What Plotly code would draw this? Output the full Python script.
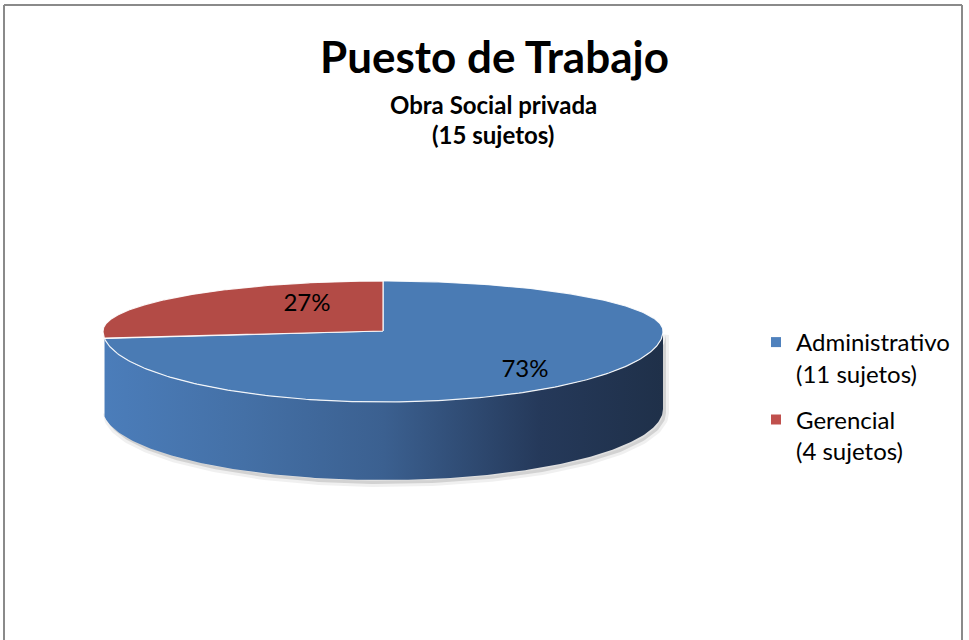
import numpy as np
import plotly.graph_objects as go

# ---------------- data ----------------
categories = ["Administrativo", "Gerencial"]
counts = [11, 4]
title_text = "Puesto de Trabajo"
subtitle_lines = ["Obra Social privada", "(15 sujetos)"]

# ---------------- styles / layout constants ----------------
TOP_COLORS = ["#4a7bb4", "#b34b46"]
LEGEND_COLORS = ["#4f81bd", "#c0504d"]
SIDE_SCALES = [
    [[0.0, "#4b7dba"], [0.25, "#4470a6"], [0.5, "#3b6090"], [0.78, "#25395a"], [1.0, "#1f3049"]],
    [[0.0, "#8e3a37"], [1.0, "#7a302d"]],
]
FONT = "Lato"
CX, CY = 383, 331
RX, RY_BACK, RY_FRONT = 280, 50, 71
DEPTH = 78
LABEL_POS = [(525, 371), (307, 305)]
W, H = 969, 640


def ell(t_deg, drop=0.0):
    t = np.radians(np.asarray(t_deg, dtype=float))
    s = np.sin(t)
    ry = np.where(s > 0, RY_BACK, RY_FRONT)
    return CX + RX * np.cos(t), CY - ry * s + drop


total = sum(counts)
fig = go.Figure()

# slice angle intervals (clockwise from 12 o'clock)
intervals = []
start = 90.0
for v in counts:
    sweep = 360.0 * v / total
    intervals.append((start - sweep, start))
    start -= sweep

# shadow under the pie
tt = np.linspace(180, 360, 200)
bx, by = ell(tt, DEPTH)
tx, ty = ell(tt[::-1], 0)
fig.add_trace(go.Scatter(
    x=np.concatenate([bx + 3, tx + 3]), y=np.concatenate([by + 4, ty + 4]),
    fill="toself", mode="lines", line=dict(color="rgba(0,0,0,0.06)", width=6),
    fillcolor="rgba(0,0,0,0.12)", hoverinfo="skip", showlegend=False))

# side walls (visible front part only)
for i, (a_end, a_start) in enumerate(intervals):
    for k in range(-2, 3):
        lo = max(a_end, 360 * k - 180)
        hi = min(a_start, 360 * k)
        if hi - lo < 10:
            continue
        t = np.linspace(lo, hi, 200)
        x1, y1 = ell(t, 0)
        x2, y2 = ell(t[::-1], DEPTH)
        fig.add_trace(go.Scatter(
            x=np.concatenate([x1, x2, x1[:1]]), y=np.concatenate([y1, y2, y1[:1]]),
            fill="toself", mode="lines", line=dict(color="rgba(255,255,255,0)", width=0),
            fillgradient=dict(type="horizontal", colorscale=SIDE_SCALES[i]),
            hoverinfo="skip", showlegend=False))

# top faces
for i, (a_end, a_start) in enumerate(intervals):
    t = np.linspace(a_start, a_end, 300)
    x, y = ell(t)
    fig.add_trace(go.Scatter(
        x=np.concatenate([[CX], x, [CX]]), y=np.concatenate([[CY], y, [CY]]),
        fill="toself", mode="lines", fillcolor=TOP_COLORS[i],
        line=dict(color="rgba(255,255,255,0.9)", width=1.2),
        hoverinfo="skip", showlegend=False))

# percentage labels
pct = [f"{round(100 * v / total)}%" for v in counts]
fig.add_trace(go.Scatter(
    x=[p[0] for p in LABEL_POS], y=[p[1] for p in LABEL_POS], text=pct,
    mode="text", textfont=dict(family=FONT, size=24, color="#000000"),
    hoverinfo="skip", showlegend=False))

# legend entries
for i, (c, n) in enumerate(zip(categories, counts)):
    fig.add_trace(go.Scatter(
        x=[None], y=[None], mode="markers", name=f"{c}<br>({n} sujetos)",
        legendgroup=c,
        marker=dict(symbol="square", size=10, color=LEGEND_COLORS[i]),
        showlegend=True))

# frame (open at the bottom, as in the reference)
for x0, y0, x1, y1 in [(4, 5, 4, H + 20), (4, 5, 962, 5), (962, 5, 962, H + 20)]:
    fig.add_shape(type="line", x0=x0, y0=y0, x1=x1, y1=y1, xref="x", yref="y",
                  line=dict(color="#8a8a8a", width=2))

fig.add_annotation(x=494, y=56, xref="x", yref="y", text=f"<b>{title_text}</b>",
                   showarrow=False, font=dict(family=FONT, size=44, color="#000000"))
fig.add_annotation(x=493, y=104, xref="x", yref="y", text=f"<b>{subtitle_lines[0]}</b>",
                   showarrow=False, font=dict(family=FONT, size=24, color="#000000"))
fig.add_annotation(x=493, y=134, xref="x", yref="y", text=f"<b>{subtitle_lines[1]}</b>",
                   showarrow=False, font=dict(family=FONT, size=24, color="#000000"))

fig.update_layout(
    width=W, height=H, margin=dict(l=0, r=0, t=0, b=0),
    paper_bgcolor="white", plot_bgcolor="white",
    xaxis=dict(range=[0, W], visible=False, fixedrange=True),
    yaxis=dict(range=[H, 0], visible=False, fixedrange=True),
    legend=dict(x=756 / W, y=1 - 320 / H,
                xanchor="left", yanchor="top",
                font=dict(family=FONT, size=24, color="#000000"),
                traceorder="grouped", tracegroupgap=12, valign="top",
                bgcolor="rgba(0,0,0,0)"),
    showlegend=True,
    hovermode=False,
)

fig.write_html(
    "out.html",
    config={"displayModeBar": False, "staticPlot": True},
    post_script="document.body.style.margin='0';document.body.style.overflow='hidden';",
)
